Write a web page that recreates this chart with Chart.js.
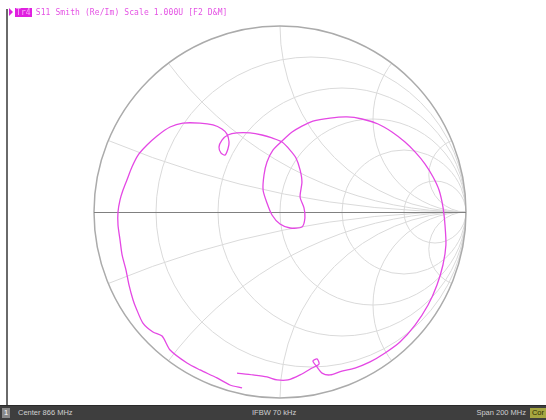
<!DOCTYPE html>
<html>
<head>
<meta charset="utf-8">
<script src="https://cdn.jsdelivr.net/npm/chart.js@4"></script>
<style>
  html, body { margin: 0; padding: 0; background: #fff; }
  #wrap { position: relative; width: 546px; height: 420px; overflow: hidden; background: #fff; }
  #chartBox { position: absolute; left: 0; top: 0; width: 546px; height: 420px; }
  #vline { position: absolute; left: 6px; top: 9px; width: 2px; height: 397px; background: #6a6a6a; }
  #hdr { position: absolute; left: 9px; top: 7px; font: 8px "DejaVu Sans Mono", monospace; color: #e452e4; white-space: pre; line-height: 11px; letter-spacing: 0.1px; }
  #hdr .tri { display: inline-block; width: 0; height: 0; border-top: 4px solid transparent; border-bottom: 4px solid transparent; border-left: 4px solid #e020e0; vertical-align: -1px; margin-right: 2px; }
  #hdr .tr { background: #e020e0; color: #f8b0f8; padding: 0 1px; margin-right: 4px; }
  #bar { position: absolute; left: 0; top: 405px; width: 546px; height: 15px; background: #3e3e3e; border-top: 1px solid #2a2a2a; box-sizing: border-box; font: 7.5px "Liberation Sans", sans-serif; color: #cfcfcf; }
  #bar span { position: absolute; top: 2px; line-height: 10px; white-space: nowrap; }
  #b1 { left: 2px; background: #8a8a8a; color: #fff; padding: 0 2px; }
  #bC { left: 18px; }
  #bI { left: 252px; }
  #bS { right: 20px; }
  #bCor { right: 0px; background: #a6a640; color: #2a2a00; padding: 0 2px; }
</style>
</head>
<body>
<div id="wrap">
  <div id="chartBox"><canvas id="c" width="546" height="420"></canvas></div>
  <div id="vline"></div>
  <div id="hdr"><span class="tri"></span><span class="tr">Tr4</span>S11 Smith (Re/Im) Scale 1.000U [F2 D&amp;M]</div>
  <div id="bar">
    <span id="b1">1</span>
    <span id="bC">Center 866 MHz</span>
    <span id="bI">IFBW 70 kHz</span>
    <span id="bS">Span 200 MHz</span>
    <span id="bCor">Cor</span>
  </div>
</div>
<script>
const traceRe = [-0.204,-0.269,-0.339,-0.430,-0.500,-0.591,-0.634,-0.683,-0.737,-0.774,-0.790,-0.812,-0.828,-0.849,-0.860,-0.871,-0.871,-0.860,-0.844,-0.823,-0.796,-0.763,-0.715,-0.661,-0.591,-0.522,-0.430,-0.360,-0.312,-0.285,-0.274,-0.280,-0.296,-0.317,-0.328,-0.312,-0.280,-0.231,-0.161,-0.097,-0.043,0.011,0.054,0.086,0.108,0.118,0.108,0.129,0.134,0.118,0.054,0.000,-0.043,-0.070,-0.091,-0.086,-0.070,-0.038,0.011,0.065,0.118,0.177,0.269,0.360,0.441,0.527,0.602,0.672,0.726,0.780,0.823,0.855,0.876,0.887,0.892,0.876,0.844,0.796,0.726,0.645,0.565,0.484,0.403,0.333,0.269,0.226,0.199,0.177,0.199,0.210,0.172,0.108,0.043,-0.016,-0.070,-0.145,-0.231];
const traceIm = [-0.946,-0.930,-0.892,-0.849,-0.812,-0.742,-0.667,-0.645,-0.597,-0.516,-0.473,-0.392,-0.312,-0.231,-0.151,-0.070,0.000,0.065,0.118,0.172,0.242,0.306,0.360,0.409,0.457,0.478,0.478,0.468,0.446,0.419,0.376,0.339,0.306,0.317,0.349,0.387,0.414,0.425,0.425,0.414,0.398,0.376,0.333,0.290,0.226,0.161,0.081,0.022,-0.032,-0.081,-0.086,-0.065,-0.016,0.048,0.118,0.199,0.269,0.333,0.382,0.430,0.462,0.489,0.505,0.511,0.500,0.473,0.430,0.376,0.323,0.258,0.188,0.118,0.027,-0.070,-0.177,-0.285,-0.392,-0.500,-0.608,-0.699,-0.758,-0.806,-0.839,-0.855,-0.876,-0.866,-0.833,-0.801,-0.790,-0.817,-0.839,-0.876,-0.903,-0.903,-0.887,-0.876,-0.866];

// Smith chart grid values
const resistanceCircles = [0.2, 0.5, 1, 2, 5];
const reactanceArcs = [0.2, 0.5, 1, 2, 5];

const tracePoints = traceRe.map((re, i) => ({ x: re, y: traceIm[i] }));

const smithGrid = {
  id: 'smithGrid',
  beforeDatasetsDraw(chart) {
    const { ctx, scales: { x, y } } = chart;
    const cx = x.getPixelForValue(0), cy = y.getPixelForValue(0);
    const R = x.getPixelForValue(1) - cx;
    const px = v => x.getPixelForValue(v);
    const py = v => y.getPixelForValue(v);
    ctx.save();
    ctx.beginPath();
    ctx.arc(cx, cy, R, 0, Math.PI * 2);
    ctx.clip();
    ctx.strokeStyle = '#dadada';
    ctx.lineWidth = 1;
    resistanceCircles.forEach(r => {
      const c = r / (r + 1), rad = 1 / (r + 1);
      ctx.beginPath();
      ctx.arc(px(c), py(0), rad * R, 0, Math.PI * 2);
      ctx.stroke();
    });
    reactanceArcs.forEach(xv => {
      [1, -1].forEach(s => {
        const rad = 1 / xv;
        ctx.beginPath();
        ctx.arc(px(1), py(s * rad), rad * R, 0, Math.PI * 2);
        ctx.stroke();
      });
    });
    ctx.restore();
    ctx.save();
    ctx.strokeStyle = '#ababab';
    ctx.lineWidth = 1.5;
    ctx.beginPath();
    ctx.arc(cx, cy, R, 0, Math.PI * 2);
    ctx.stroke();
    ctx.strokeStyle = '#808080';
    ctx.lineWidth = 1;
    ctx.beginPath();
    ctx.moveTo(px(-1), Math.round(cy) + 0.5);
    ctx.lineTo(px(1), Math.round(cy) + 0.5);
    ctx.stroke();
    ctx.restore();
  }
};

new Chart(document.getElementById('c'), {
  type: 'scatter',
  data: {
    datasets: [{
      label: 'S11',
      data: tracePoints,
      showLine: true,
      borderColor: '#e448e4',
      borderWidth: 1.3,
      pointRadius: 0,
      tension: 0.25
    }]
  },
  options: {
    responsive: false,
    animation: false,
    layout: { padding: { left: 94, right: 80, top: 26, bottom: 22 } },
    plugins: { legend: { display: false }, tooltip: { enabled: false } },
    scales: {
      x: { type: 'linear', min: -1, max: 1, display: false },
      y: { type: 'linear', min: -1, max: 1, display: false }
    }
  },
  plugins: [smithGrid]
});
</script>
</body>
</html>
